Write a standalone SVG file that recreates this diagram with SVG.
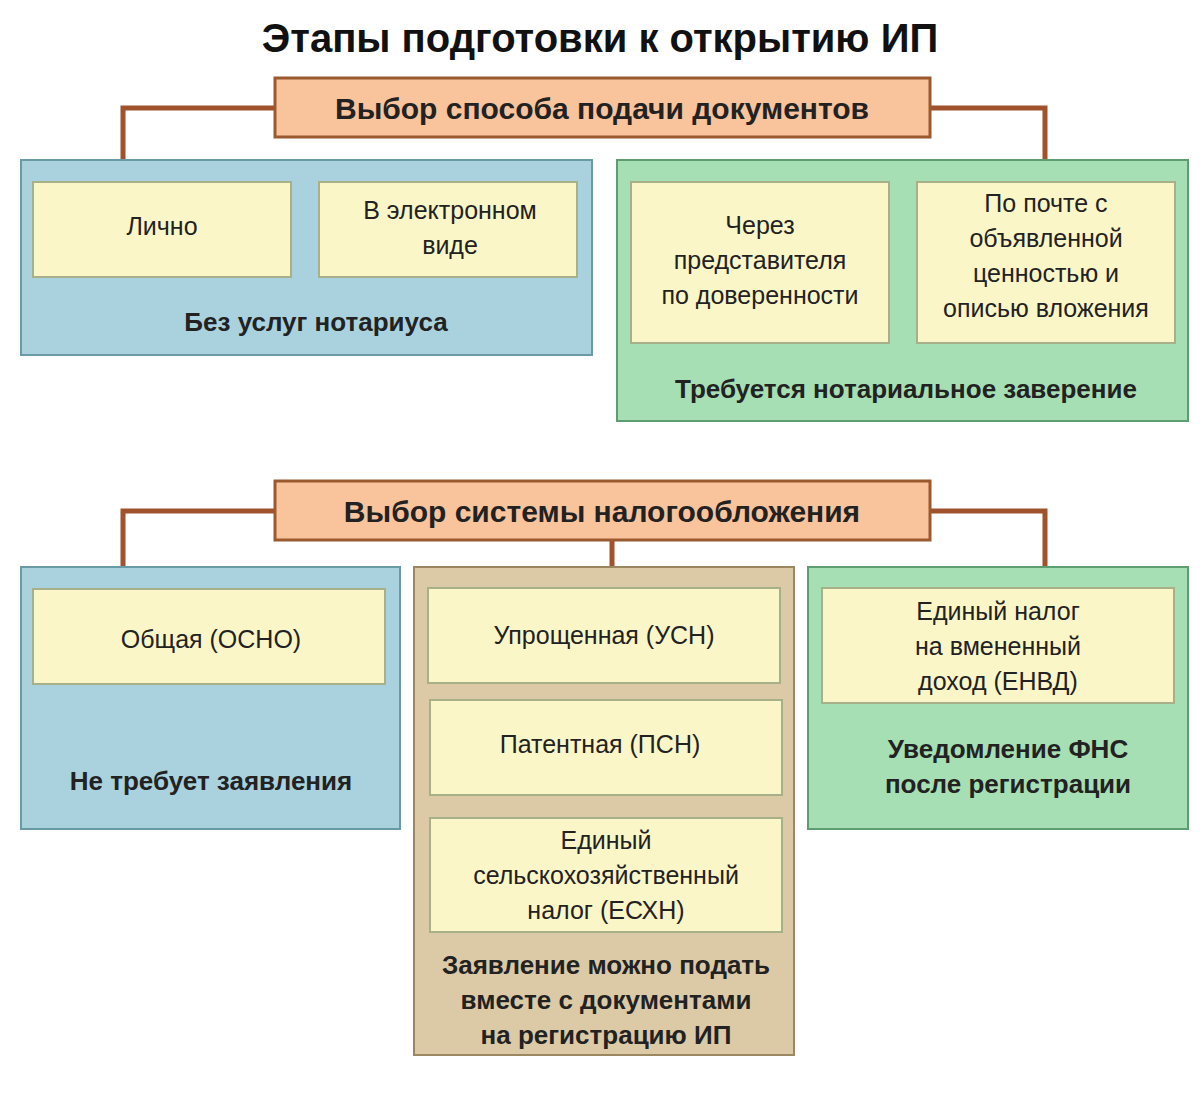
<svg xmlns="http://www.w3.org/2000/svg" width="1200" height="1100" viewBox="0 0 1200 1100">
<style>
.t{font-family:"Liberation Sans",Arial,sans-serif;text-anchor:middle;fill:#222}
.title{font-size:40px;font-weight:bold;fill:#111}
.h{font-size:30px;font-weight:bold}
.b{font-size:26px;font-weight:bold}
.n{font-size:25px}
.hdr{fill:#F9C39C;stroke:#9A5A2E;stroke-width:3}
.blue{fill:#A9D2DE;stroke:#6A9AA5;stroke-width:2}
.green{fill:#A6DFB4;stroke:#5E9D70;stroke-width:2}
.tan{fill:#DCCAA7;stroke:#9C8860;stroke-width:2}
.in{fill:#FBF6C8;stroke:#A8B08A;stroke-width:2}
.c{fill:none;stroke:#A0522D;stroke-width:5}
</style>
<rect width="1200" height="1100" fill="#fff"/>
<text class="t title" x="600" y="52">Этапы подготовки к открытию ИП</text>
<g id="connectors">
<path class="c" d="M275 108 H123 V160 M930 108 H1045 V160"/>
<path class="c" d="M275 511 H123 V567 M930 511 H1045 V567 M612 540 V567"/>
</g>
<g id="hdr1"><rect class="hdr" x="275" y="78" width="655" height="59"/><text class="t h" x="602" y="119">Выбор способа подачи документов</text></g>
<g id="blue1"><rect class="blue" x="21" y="160" width="571" height="195"/><text class="t b" x="316" y="331">Без услуг нотариуса</text></g>
<g id="lichno"><rect class="in" x="33" y="182" width="258" height="95"/><text class="t n" x="162" y="235">Лично</text></g>
<g id="elektr"><rect class="in" x="319" y="182" width="258" height="95"/><text class="t n" x="450" y="219">В электронном</text><text class="t n" x="450" y="254">виде</text></g>
<g id="green1"><rect class="green" x="617" y="160" width="571" height="261"/><text class="t b" x="906" y="398">Требуется нотариальное заверение</text></g>
<g id="predst"><rect class="in" x="631" y="182" width="258" height="161"/><text class="t n" x="760" y="234">Через</text><text class="t n" x="760" y="269">представителя</text><text class="t n" x="760" y="304">по доверенности</text></g>
<g id="pochta"><rect class="in" x="917" y="182" width="258" height="161"/><text class="t n" x="1046" y="212">По почте с</text><text class="t n" x="1046" y="247">объявленной</text><text class="t n" x="1046" y="282">ценностью и</text><text class="t n" x="1046" y="317">описью вложения</text></g>
<g id="hdr2"><rect class="hdr" x="275" y="481" width="655" height="59"/><text class="t h" x="602" y="522">Выбор системы налогообложения</text></g>
<g id="blue2"><rect class="blue" x="21" y="567" width="379" height="262"/><text class="t b" x="211" y="790">Не требует заявления</text></g>
<g id="osno"><rect class="in" x="33" y="589" width="352" height="95"/><text class="t n" x="211" y="648">Общая (ОСНО)</text></g>
<g id="tan"><rect class="tan" x="414" y="567" width="380" height="488"/><text class="t b" x="606" y="974">Заявление можно подать</text><text class="t b" x="606" y="1009">вместе с документами</text><text class="t b" x="606" y="1044">на регистрацию ИП</text></g>
<g id="usn"><rect class="in" x="428" y="588" width="352" height="95"/><text class="t n" x="604" y="644">Упрощенная  (УСН)</text></g>
<g id="psn"><rect class="in" x="430" y="700" width="352" height="95"/><text class="t n" x="600" y="753">Патентная (ПСН)</text></g>
<g id="eshn"><rect class="in" x="430" y="818" width="352" height="114"/><text class="t n" x="606" y="849">Единый</text><text class="t n" x="606" y="884">сельскохозяйственный</text><text class="t n" x="606" y="919">налог (ЕСХН)</text></g>
<g id="green2"><rect class="green" x="808" y="567" width="380" height="262"/><text class="t b" x="1008" y="758">Уведомление ФНС</text><text class="t b" x="1008" y="793">после регистрации</text></g>
<g id="envd"><rect class="in" x="822" y="588" width="352" height="115"/><text class="t n" x="998" y="620">Единый налог</text><text class="t n" x="998" y="655">на вмененный</text><text class="t n" x="998" y="690">доход (ЕНВД)</text></g>
</svg>
